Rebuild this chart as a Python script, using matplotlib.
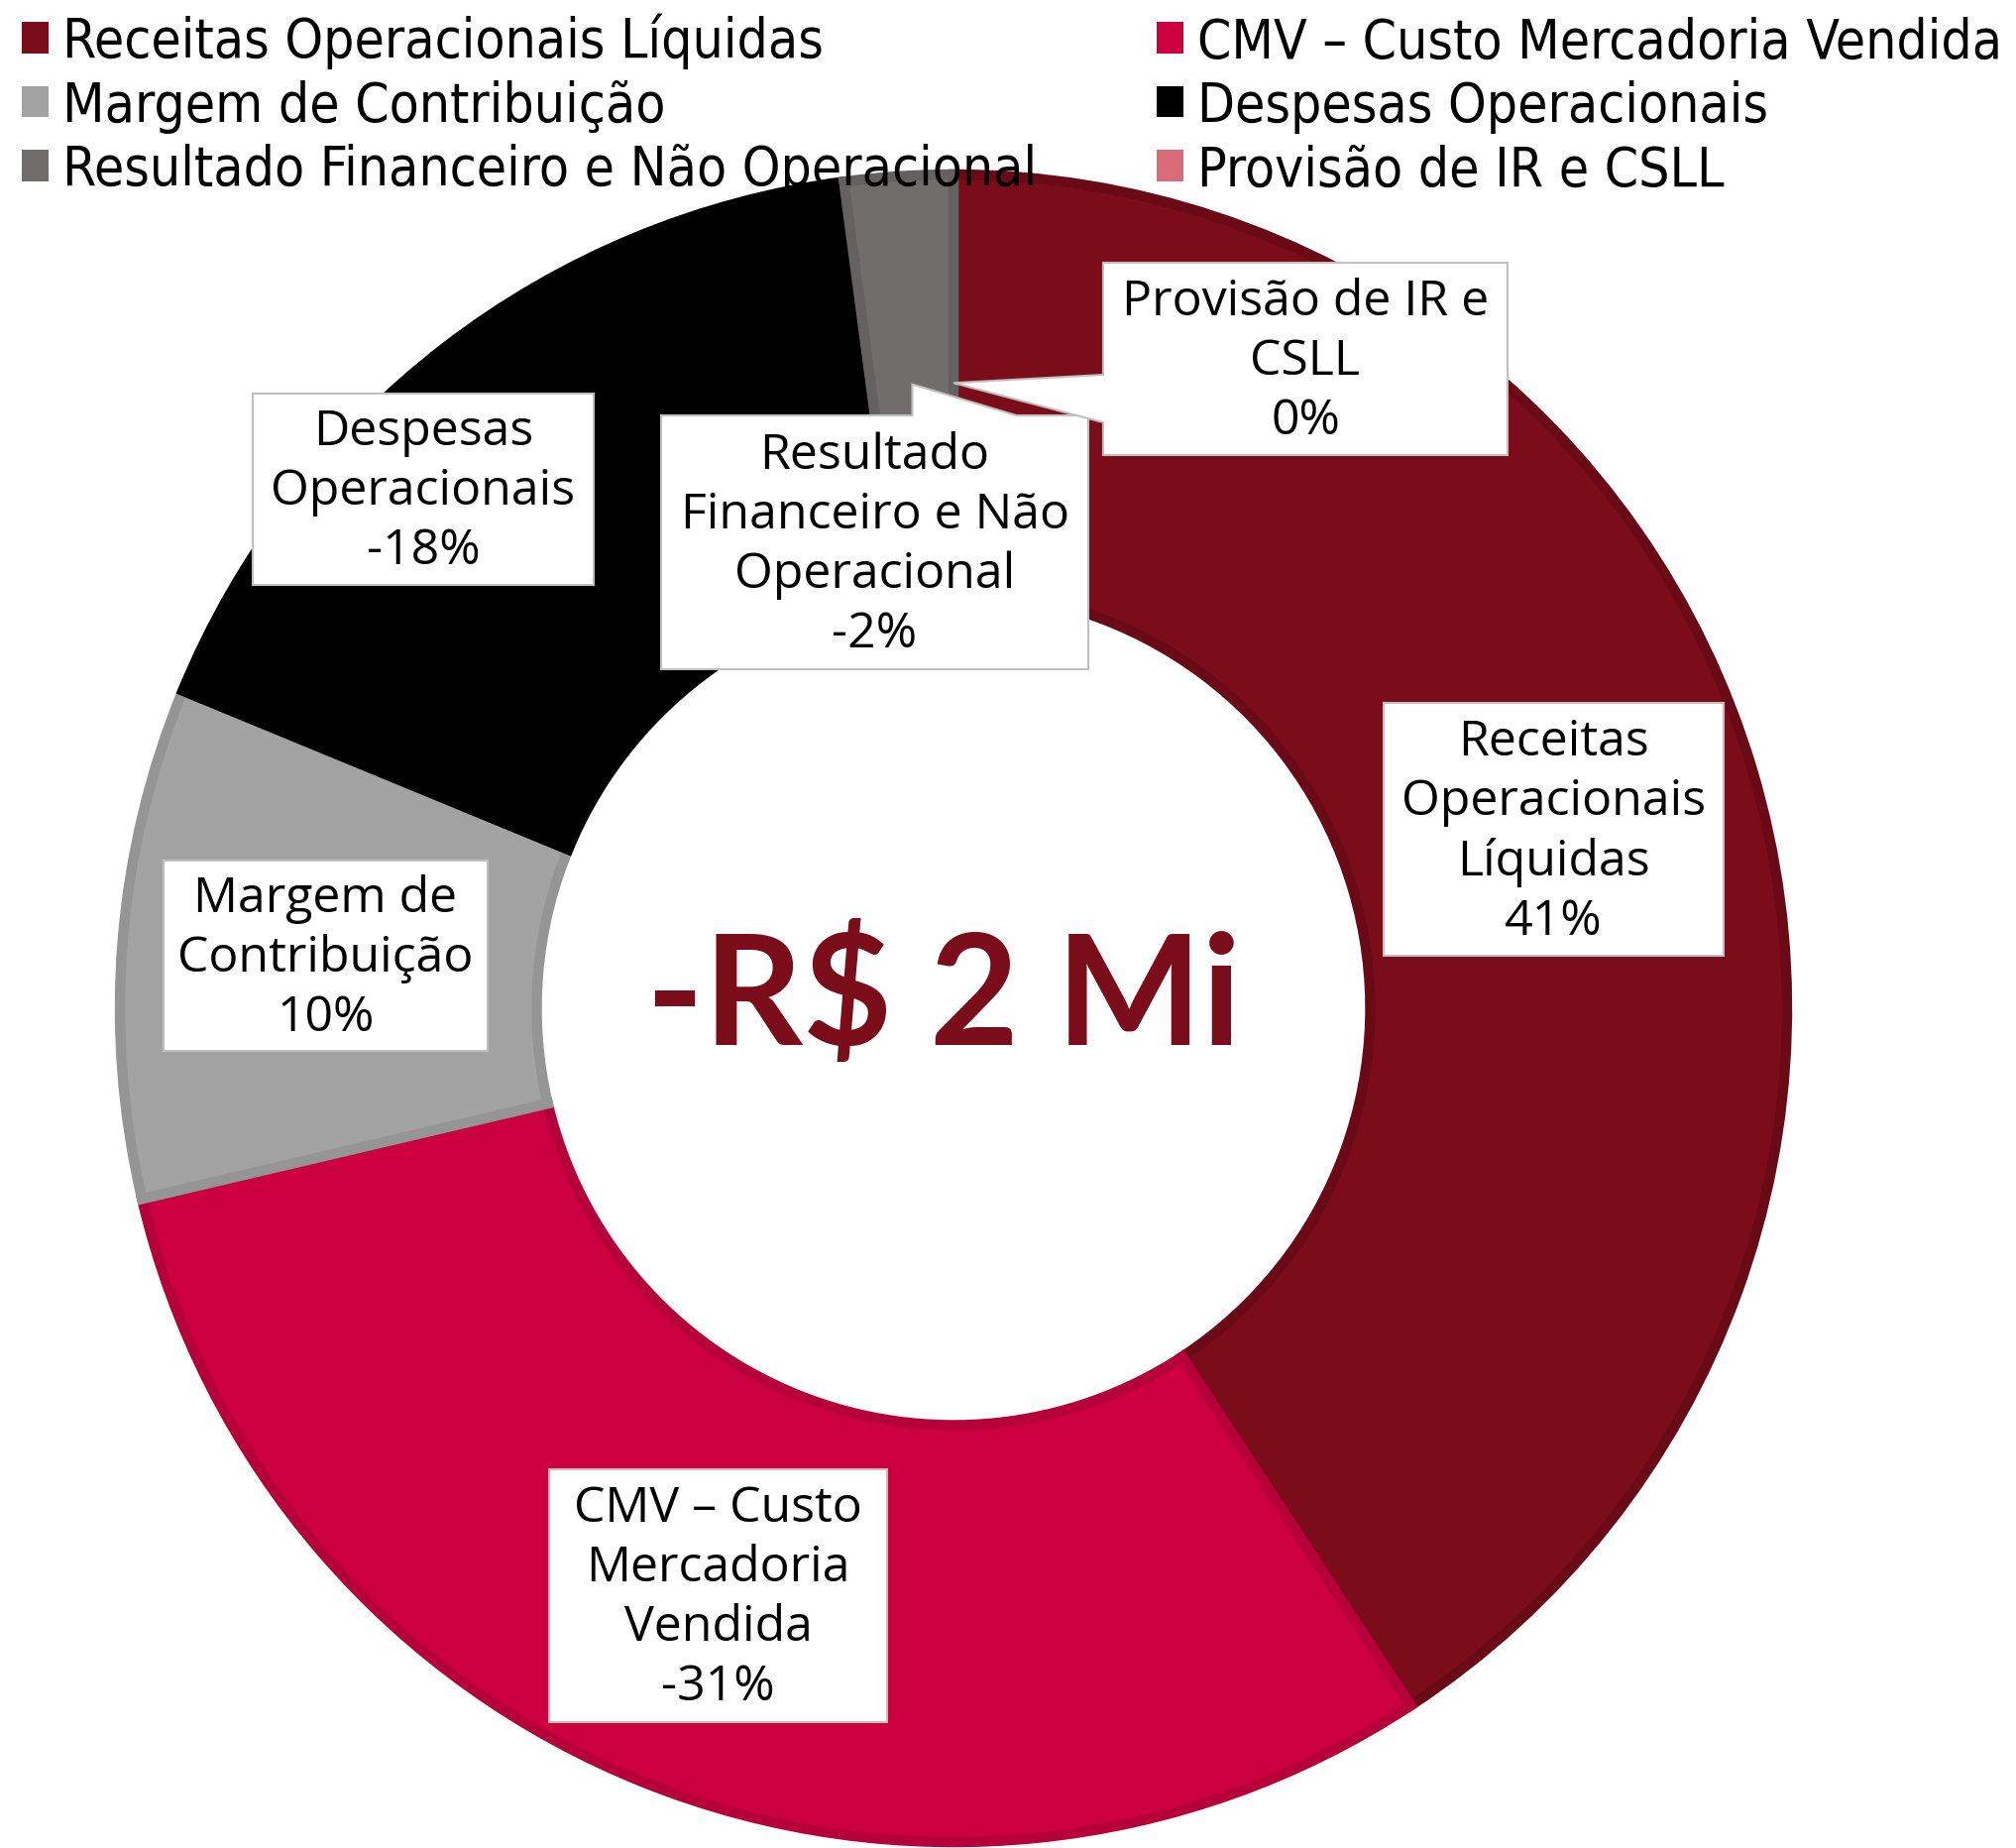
import numpy as np
import matplotlib
matplotlib.use("Agg")
import matplotlib.pyplot as plt
from matplotlib.patches import Polygon

# ─── Data ───────────────────────────────────────────────
categories = [
    "Receitas Operacionais Líquidas",
    "CMV – Custo Mercadoria Vendida",
    "Margem de Contribuição",
    "Despesas Operacionais",
    "Resultado Financeiro e Não Operacional",
    "Provisão de IR e CSLL",
]
# wrapped text used inside the label boxes
box_labels = [
    "Receitas\nOperacionais\nLíquidas",
    "CMV – Custo\nMercadoria\nVendida",
    "Margem de\nContribuição",
    "Despesas\nOperacionais",
    "Resultado\nFinanceiro e Não\nOperacional",
    "Provisão de IR e\nCSLL",
]
slice_shares = [40.8, 30.6, 9.9, 16.7, 2.1, 0.0]   # ring share
pct_values = [41, -31, 10, -18, -2, 0]             # % printed on the labels
center_text = "-R$ 2 Mi"

fill_colors = ["#7B0D1B", "#CC0040", "#A3A3A3", "#000000", "#726D6D", "#D96C78"]
edge_colors = ["#6A0A16", "#B5003A", "#959595", "#000000", "#656161", "#C85A66"]

# ─── Layout (pixels, y measured from top) ──────────────
W, H = 2034, 1865
CX, CY, R = 962, 1018, 841
HOLE = 0.5

# label boxes: x0, x1, y0, y1
boxes = [
    (1396, 1739, 710, 965),
    (554, 895, 1483, 1738),
    (165, 492, 869, 1061),
    (255, 599, 398, 591),
    (667, 1098, 420, 676),
    (1113, 1521, 266, 460),
]

fig = plt.figure(figsize=(W / 100, H / 100), dpi=100)
ax = fig.add_axes([0, 0, 1, 1])

wedges, _ = ax.pie(slice_shares, colors=fill_colors, startangle=90,
                   counterclock=False, center=(CX, H - CY), radius=R,
                   wedgeprops=dict(width=R * HOLE, linewidth=7.5))
# border drawn only on the inside of each slice
for w, ec, s in zip(wedges, edge_colors, slice_shares):
    w.set_edgecolor(ec)
    w.set_clip_path(w)
    if s == 0:
        w.set_linewidth(0)

ax.set_xlim(0, W)
ax.set_ylim(0, H)
ax.set_aspect("equal")
ax.set_axis_off()

# center value
ax.text(CX - 10, H - CY + 10, center_text, ha="center", va="center",
        fontsize=112, fontweight="bold", color="#7B0D1B", family="Lato")

BOX_EC = "#C0C0C0"
label_font = dict(fontsize=36, family="Open Sans", color="black", linespacing=1.28)


def tip_of(wedge, frac=0.75):
    th = np.radians((wedge.theta1 + wedge.theta2) / 2)
    return CX + frac * R * np.cos(th), CY - frac * R * np.sin(th)


for i, (x0, x1, y0, y1) in enumerate(boxes):
    if i == 4:
        tx, ty = tip_of(wedges[4])
        pts = [(x0, y0), (tx, y0), (tx, ty), (tx + 105, y0), (x1, y0),
               (x1, y1), (x0, y1)]
    elif i == 5:
        tx, ty = tip_of(wedges[5])
        pts = [(x0, y0), (x1, y0), (x1, y1), (x0, y1), (x0, y0 + 161),
               (tx, ty), (x0, y0 + 113)]
    else:
        pts = [(x0, y0), (x1, y0), (x1, y1), (x0, y1)]
    ax.add_patch(Polygon([(x, H - y) for x, y in pts], closed=True,
                         facecolor="white", edgecolor=BOX_EC, linewidth=1.5,
                         zorder=5))
    txt = f"{box_labels[i]}\n{pct_values[i]}%"
    ax.text((x0 + x1) / 2, H - (y0 + y1) / 2 - 2, txt, ha="center",
            va="center", zorder=6, **label_font)

# legend, row-wise order like the original
order = [0, 2, 4, 1, 3, 5]
leg = ax.legend([wedges[k] for k in order], [categories[k] for k in order],
                ncol=2, loc="upper left", bbox_to_anchor=(22 / W, 1 - 14 / H),
                frameon=False,
                prop=dict(family="DejaVu Sans", stretch="condensed", size=39.5),
                handlelength=0.5, handleheight=0.5, handletextpad=0.25,
                labelspacing=0.19, columnspacing=2.2, borderpad=0,
                borderaxespad=0)
for h in leg.legend_handles:
    h.set_linewidth(0)
    h.set_clip_path(None)

fig.savefig("out.png", dpi=100)
